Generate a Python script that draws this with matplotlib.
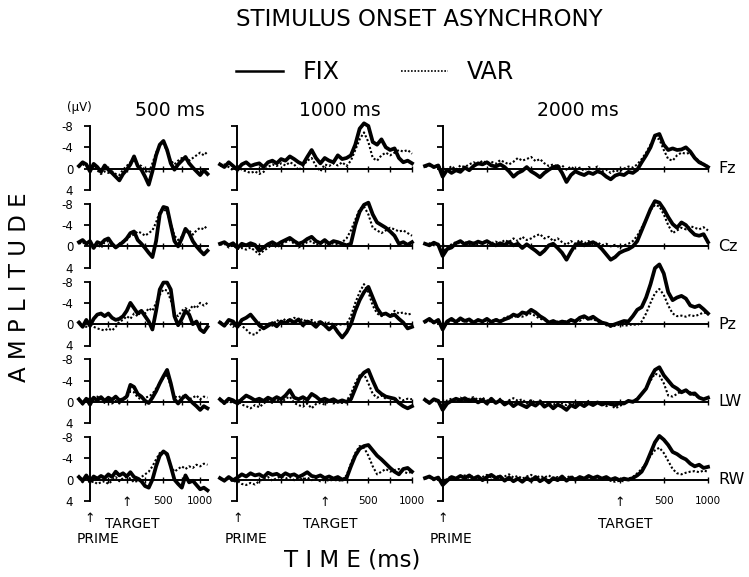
import numpy as np
import matplotlib
matplotlib.use("Agg")
import matplotlib.pyplot as plt
from matplotlib.transforms import blended_transform_factory, offset_copy
from matplotlib.lines import Line2D

plt.rcParams['font.family'] = ['DejaVu Sans']

# ---------------- data ----------------
electrodes = ["Fz", "Cz", "Pz", "LW", "RW"]
soa_labels = ["500 ms", "1000 ms", "2000 ms"]
soa_ms = [500, 1000, 2000]          # target onset after prime
t_start = [-150, -200, -200]        # first sample of each SOA panel (ms)
t_step = 50
y_ticks = [-8, -4, 0, 4]
y_tick_labels = ["-8", "-4", "0", "4"]
x_tick_labels = ["500", "1000"]     # ms after target
x_tick_offsets = [500, 1000]

# SOA 500 ms (t = -150 .. 1600 ms, step 50)
fz_fix_500 = [-0.5, -1.2, -0.8, 0.5, -0.9, -0.3, 0.6, -0.6, 0.2, 0.8,
              1.5, 2.2, 1.0, 0.2, -0.8, -2.3, -0.5, 0.2, 1.5, 3.0,
              0.5, -2.5, -4.5, -5.2, -3.5, -1.0, 0.2, -0.8, -1.5, -2.2,
              -1.0, -0.2, 0.5, 1.2, 0.3, 1.0]
fz_var_500 = [-0.3, -0.8, -0.5, 0.2, -0.5, 0.3, 1.0, 0.5, 0.8, 0.5,
              1.0, 1.2, 0.2, -0.5, -1.2, -1.5, -0.8, -0.5, 0.3, 0.8,
              -1.0, -3.0, -4.5, -4.8, -3.2, -1.5, -0.8, -1.5, -2.0, -1.8,
              -1.5, -2.0, -2.5, -3.0, -2.5, -3.2]
cz_fix_500 = [-0.8, -1.2, -0.5, -1.0, 0.3, -0.8, -0.5, -1.2, -1.5, -0.5,
              0.2, -0.3, -0.8, -1.5, -2.5, -2.8, -1.2, -0.5, 0.3, 1.2,
              2.0, -1.0, -6.0, -7.4, -7.2, -4.0, -1.0, 0.0, -1.5, -3.3,
              -2.5, -1.0, 0.0, 0.8, 1.5, 0.8]
cz_var_500 = [-0.5, -0.8, -0.3, -0.5, 0.2, -0.5, 0.3, -0.8, -1.0, -0.3,
              0.3, -0.5, -1.0, -1.2, -2.0, -2.2, -2.8, -2.5, -2.0, -2.5,
              -3.0, -4.5, -6.5, -7.0, -6.5, -4.2, -2.0, -1.2, -1.8, -2.8,
              -3.0, -2.2, -3.0, -3.5, -3.2, -4.0]
pz_fix_500 = [-0.3, 0.5, -0.8, 0.3, -1.0, -1.8, -2.0, -1.5, -2.0, -1.2,
              -0.8, -1.0, -1.5, -2.5, -4.0, -3.0, -2.0, -2.5, -1.5, -0.5,
              1.0, -2.5, -6.5, -7.8, -7.8, -6.5, -1.5, 0.2, -1.0, -2.5,
              -1.8, 0.0, -0.5, 1.0, 1.5, 0.5]
pz_var_500 = [-0.5, 0.3, 0.5, -0.3, 0.5, 0.8, 1.0, 1.2, 0.8, 1.2,
              0.5, -0.5, -0.8, -1.5, -1.0, -2.0, -1.5, -2.5, -2.0, -3.0,
              -2.5, -4.0, -5.5, -6.5, -6.3, -4.5, -2.0, -1.5, -2.5, -3.0,
              -2.5, -3.5, -3.0, -4.0, -3.5, -4.0]
lw_fix_500 = [-0.5, 0.3, -0.6, 0.5, -0.8, -0.3, -0.9, -0.2, -0.8, -0.4,
              -1.0, -0.3, -0.5, -1.0, -3.2, -2.8, -1.5, -1.0, -0.2, 0.2,
              -0.8, -2.0, -3.5, -4.8, -6.0, -3.5, -0.5, 0.3, -0.6, -1.2,
              -0.5, 0.2, 0.8, 1.5, 0.8, 1.2]
lw_var_500 = [-0.3, 0.5, -0.3, -0.8, -0.3, -1.0, -0.5, 0.2, -0.5, 0.3,
              -0.2, 0.3, -0.5, -0.8, -2.0, -1.8, -0.8, -0.5, -0.8, -1.0,
              -1.5, -2.5, -3.5, -4.5, -5.0, -3.0, -1.0, -0.8, -1.2, -1.0,
              -0.5, -0.8, -1.2, -0.5, -1.0, -0.8]
rw_fix_500 = [-0.5, 0.2, -0.8, 0.3, -0.6, -0.2, -0.7, -0.3, -1.0, -0.5,
              -1.5, -0.8, -1.2, -0.6, -1.4, -0.5, -0.2, 0.3, 1.2, 1.5,
              0.0, -2.5, -4.5, -5.3, -4.8, -2.5, 0.0, 0.8, 1.5, -0.8,
              0.5, 0.2, 1.0, 1.8, 1.5, 2.0]
rw_var_500 = [-0.3, 0.5, -0.5, 0.6, 0.3, 0.8, 0.5, 0.3, 0.8, 0.2,
              -0.5, 0.3, -0.3, -0.5, -0.2, 0.5, 0.2, -0.5, -1.0, -1.5,
              -2.5, -3.8, -5.0, -5.2, -4.5, -2.5, -1.5, -2.0, -2.5, -2.0,
              -2.5, -2.2, -2.8, -2.5, -3.0, -2.8]

# SOA 1000 ms (t = -200 .. 2000 ms, step 50)
fz_fix_1000 = [-0.8, -0.3, -1.2, -0.5, 0.2, -0.8, -1.2, -0.5, -0.8, -1.0,
               -0.3, -1.2, -1.5, -1.0, -1.8, -1.5, -2.3, -1.8, -1.2, -0.8,
               -2.2, -3.5, -2.0, -1.0, -2.0, -1.5, -1.2, -2.5, -1.8, -2.0,
               -2.5, -4.5, -7.5, -8.5, -8.0, -5.0, -4.5, -5.5, -4.0, -3.5,
               -3.8, -2.0, -1.2, -1.5, -1.0]
fz_var_1000 = [-0.5, -0.8, -0.3, 0.3, -0.5, 0.2, 0.5, 0.8, 0.5, 1.0,
               0.6, -0.3, -0.8, -0.5, -1.0, -0.6, -1.2, -0.8, 0.3, -0.5,
               -1.5, -2.0, -0.5, 0.5, -0.8, -0.5, -1.0, -0.6, -1.2, -0.5,
               -1.5, -3.5, -5.5, -6.8, -5.0, -2.0, -1.5, -2.5, -3.0, -2.5,
               -3.0, -3.5, -3.2, -3.5, -2.8]
cz_fix_1000 = [-0.5, -0.8, -0.2, -0.6, 0.3, -0.5, -0.2, -0.6, -0.3, 0.8,
               0.2, -0.4, -0.8, -0.3, -0.8, -1.2, -1.6, -1.0, -0.5, -0.8,
               -1.4, -1.8, -1.0, -0.6, -1.2, -0.5, -1.0, -0.8, -0.5, -0.2,
               -0.5, -4.0, -6.5, -7.8, -8.2, -6.0, -4.5, -4.0, -3.5, -2.8,
               -2.0, -0.5, -0.8, -0.3, -0.8]
cz_var_1000 = [-0.3, -0.5, 0.2, -0.3, 0.5, 0.3, 0.6, 0.2, 0.8, 1.5,
               0.8, 0.3, -0.5, 0.2, -0.3, -0.8, -1.2, -0.5, 0.2, -0.3,
               -0.8, -1.0, -0.3, -0.5, -0.8, -0.3, -0.6, -0.4, -0.8, -1.5,
               -3.0, -5.0, -7.0, -7.5, -6.0, -3.5, -3.0, -2.5, -3.0, -3.5,
               -3.2, -2.8, -3.0, -2.5, -2.0]
pz_fix_1000 = [-0.3, 0.3, -0.8, -0.5, 0.5, -0.8, -1.2, -1.8, -0.8, 0.2,
               0.8, 0.3, -0.2, 0.4, -0.5, -0.2, -0.8, -0.3, -0.9, 0.2,
               -0.5, -0.2, 0.5, -0.4, 0.2, 1.0, 0.3, 1.5, 2.5, 1.5,
               0.0, -2.5, -4.5, -6.0, -7.0, -5.0, -3.0, -1.8, -2.0, -1.5,
               -1.8, -1.0, -0.3, 0.8, 0.5]
pz_var_1000 = [-0.5, 0.2, -0.3, 0.5, -0.2, 0.3, 1.0, 1.8, 2.0, 1.2,
               0.5, -0.3, 0.3, -0.8, -0.3, -1.0, -0.5, -1.2, -0.6, -1.0,
               -0.3, -0.8, -0.2, -0.6, 0.2, -0.3, 0.0, 0.2, 0.0, 0.0,
               -1.5, -4.0, -6.0, -7.5, -6.0, -3.5, -2.0, -1.5, -2.0, -1.5,
               -2.5, -2.0, -2.2, -1.8, -2.0]
lw_fix_1000 = [-0.5, 0.2, -0.6, -0.3, 0.3, -0.5, -1.2, -0.8, -0.3, -0.6,
               -0.2, -0.8, -0.4, -0.9, -0.5, -1.2, -2.2, -0.8, -0.5, -0.9,
               -0.4, -1.5, -1.0, -0.3, -0.6, -0.2, -0.5, 0.0, -0.3, 0.0,
               -0.5, -2.5, -4.5, -5.5, -6.0, -4.0, -2.2, -1.5, -1.0, -0.8,
               -0.6, 0.2, 0.8, 1.2, 0.8]
lw_var_1000 = [-0.3, 0.4, -0.2, 0.3, -0.4, 0.5, 0.8, 1.2, 0.6, 1.0,
               0.3, -0.3, 0.2, -0.5, 0.2, -0.6, -1.0, 0.2, 0.6, 0.9,
               0.3, 1.2, 0.4, 0.2, 0.5, -0.2, 0.3, 0.0, 0.2, -0.2,
               -1.5, -3.5, -5.0, -5.2, -3.5, -1.5, -0.8, -1.2, -0.6, -0.9,
               -0.4, -0.8, -0.3, -0.6, -0.5]
rw_fix_1000 = [-0.3, 0.2, -0.5, 0.1, -0.4, -1.0, -0.6, -1.2, -0.8, -1.0,
               -0.5, -1.3, -0.9, -1.1, -0.6, -1.2, -0.8, -1.0, -0.5, -0.9,
               -1.4, -0.7, -0.5, -0.8, -0.3, -0.6, -0.2, -0.5, 0.0, -0.3,
               -2.5, -4.5, -5.8, -6.3, -6.5, -5.5, -4.5, -3.8, -3.0, -2.2,
               -1.5, -1.0, -2.0, -2.2, -1.5]
rw_var_1000 = [-0.2, 0.3, -0.2, 0.4, 0.2, 0.8, 1.0, 0.6, 0.9, 0.3,
               -0.2, -0.5, 0.2, -0.3, -0.6, -0.2, -0.5, 0.1, -0.3, 0.0,
               -0.4, 0.1, -0.2, 0.3, 0.0, 0.2, 0.0, 0.2, 0.1, -0.8,
               -3.0, -5.0, -6.3, -6.0, -4.5, -2.5, -1.0, -1.5, -2.0, -1.5,
               -1.8, -2.0, -1.5, -1.2, -1.5]

# SOA 2000 ms (t = -200 .. 3000 ms, step 50)
fz_fix_2000 = [-0.5, -0.8, -0.3, -0.6, 1.5, 0.2, 0.8, 0.3, 0.6, -0.2,
               0.3, -0.5, -1.0, -0.8, -1.2, -0.6, -0.4, -0.8, -0.3, 0.5,
               1.5, 0.8, 0.4, -0.3, 0.5, 1.0, 1.6, 0.8, 0.2, -0.3,
               -0.5, 0.8, 2.5, 1.2, 0.5, 0.9, 1.2, 0.7, 1.0, 0.5,
               0.8, 1.5, 2.0, 1.3, 1.0, 1.2, 0.6, 0.8, 0.2, -1.2,
               -2.5, -4.0, -6.2, -6.5, -4.5, -3.5, -3.8, -3.5, -3.6, -4.0,
               -3.2, -2.0, -1.2, -0.8, -0.3]
fz_var_2000 = [-0.3, -0.6, -0.2, -0.8, 0.8, 0.3, -0.5, 0.2, -0.6, -0.3,
               -0.8, -1.2, -0.8, -1.5, -1.0, -1.3, -0.9, -1.6, -1.2, -0.8,
               -1.3, -2.0, -1.5, -1.8, -2.2, -1.4, -1.8, -1.0, -0.5, -0.8,
               -0.3, -0.6, 0.2, -0.4, 0.3, -0.2, 0.4, -0.3, 0.1, -0.4,
               0.5, 0.2, 0.8, 0.3, 0.5, 0.0, -0.4, -0.2, -0.8, -1.8,
               -3.0, -4.5, -5.8, -5.5, -3.5, -1.8, -1.5, -2.5, -3.0, -2.8,
               -3.0, -2.0, -1.5, -0.8, -0.5]
cz_fix_2000 = [-0.5, -0.2, -0.7, -0.3, 1.8, 0.5, 0.2, -0.6, -1.0, -0.4,
               -0.8, -0.5, -0.9, -0.6, -1.0, -0.5, -0.2, -0.6, -0.3, -0.8,
               -0.2, -0.5, 0.3, -0.4, 0.2, 0.8, 1.5, 0.8, -0.2, -0.5,
               0.3, 1.2, 2.5, 1.0, -0.3, -0.6, -0.2, -0.5, -0.8, -0.3,
               0.5, 1.5, 2.5, 2.0, 1.2, 0.8, 0.5, 0.0, -1.0, -3.0,
               -5.0, -7.0, -8.5, -8.2, -7.0, -5.5, -4.2, -3.5, -4.5, -4.0,
               -3.0, -2.2, -2.0, -2.3, -0.8]
cz_var_2000 = [-0.3, -0.6, -0.2, -0.5, 1.0, 0.3, -0.4, -0.8, -0.5, -0.9,
               -0.4, -0.7, -0.3, -0.8, -1.0, -0.6, -0.9, -0.5, -1.2, -0.8,
               -1.5, -1.0, -1.8, -1.2, -1.5, -2.0, -2.3, -1.5, -1.8, -1.0,
               -1.5, -0.8, -0.3, -1.0, -0.5, -1.2, -0.6, -1.0, -0.4, -0.8,
               -0.2, -0.5, 0.0, -0.3, 0.2, -0.2, -0.5, -1.0, -2.0, -3.5,
               -5.0, -6.8, -7.8, -7.5, -6.0, -4.0, -2.5, -3.0, -3.5, -3.2,
               -3.8, -3.5, -3.2, -3.6, -3.0]
pz_fix_2000 = [-0.5, -1.0, -0.3, -0.8, 1.0, -0.5, -1.0, -0.4, -1.1, -0.6,
               -0.9, -0.3, -0.8, -0.5, -1.0, -0.4, -0.8, -0.5, -0.9, -1.2,
               -1.8, -1.5, -2.2, -2.0, -2.7, -2.2, -1.5, -1.0, -0.3, -0.6,
               -0.2, -0.5, -0.3, -0.8, -0.5, -1.2, -1.5, -1.0, -1.4, -0.8,
               -0.3, -0.1, 0.3, 0.0, -0.3, -0.6, -0.5, -1.5, -2.7, -3.2,
               -5.0, -7.5, -10.5, -11.2, -9.5, -6.0, -4.5, -5.0, -5.3, -4.8,
               -3.5, -3.2, -3.5, -2.8, -2.0]
pz_var_2000 = [-0.3, -0.6, -0.2, -0.4, 0.8, -0.2, -0.7, -0.3, -0.8, -0.4,
               -0.6, -0.2, -0.6, -0.3, -0.8, -0.5, -1.0, -0.6, -1.2, -1.5,
               -1.2, -1.8, -1.4, -1.7, -2.0, -1.5, -1.0, -0.8, -0.4, -0.2,
               -0.5, -0.3, -0.6, -0.4, -0.9, -0.6, -1.2, -0.8, -1.0, -0.5,
               -0.2, 0.2, 0.5, 0.3, 0.1, 0.3, 0.2, 0.0, 0.2, -0.5,
               -2.0, -4.0, -5.8, -6.6, -5.5, -3.5, -2.0, -1.5, -1.6, -1.4,
               -1.7, -1.5, -1.8, -2.2, -2.0]
lw_fix_2000 = [-0.4, 0.2, -0.5, -0.2, 1.5, 0.3, -0.2, -0.6, -0.3, -0.7,
               -0.2, -0.5, 0.1, -0.4, 0.3, -0.6, 0.2, -0.3, 0.5, 0.0,
               0.8, 0.2, 0.6, 1.0, 0.3, 0.7, 0.0, 0.9, 0.4, 1.2,
               0.5, 0.9, 1.5, 0.6, 1.0, 0.3, 0.8, 0.2, 0.6, 0.1,
               0.5, 0.2, 0.4, 0.6, 0.2, 0.3, -0.2, 0.0, -0.5, -1.5,
               -2.5, -4.5, -6.0, -6.5, -5.0, -4.0, -3.0, -2.5, -1.8, -2.2,
               -1.5, -1.6, -0.8, -0.5, -0.8]
lw_var_2000 = [-0.2, 0.3, -0.4, 0.2, 1.0, -0.3, -0.6, -0.2, -0.8, -0.3,
               -0.6, -0.9, -0.4, -0.8, -0.2, -0.5, 0.3, -0.6, 0.2, -0.3,
               -0.7, -0.2, -0.5, 0.3, -0.4, 0.2, -0.3, 0.4, -0.1, 0.5,
               0.1, 0.3, 0.6, 0.2, 0.5, 0.0, 0.4, -0.2, 0.3, 0.0,
               0.5, 0.8, 0.5, 1.2, 0.8, 0.3, 0.0, -0.2, -0.6, -1.5,
               -2.5, -4.0, -5.3, -5.0, -3.5, -1.2, -1.0, -1.5, -2.0, -2.2,
               -1.8, -1.2, -0.8, -0.5, -0.6]
rw_fix_2000 = [-0.3, -0.6, -0.1, -0.4, 1.0, 0.2, -0.5, -0.2, -0.7, -0.3,
               -0.8, -0.2, -0.6, 0.1, -0.5, -0.9, -0.3, -0.6, 0.2, -0.4,
               0.3, -0.2, 0.4, -0.3, 0.2, -0.5, 0.3, -0.2, 0.5, -0.3,
               0.1, -0.6, 0.2, -0.4, 0.0, -0.5, -0.2, -0.7, -0.3, -0.6,
               -0.2, -0.5, 0.0, -0.3, 0.1, -0.2, 0.0, -0.3, -0.8, -1.5,
               -3.0, -5.0, -7.0, -8.2, -7.5, -6.5, -5.2, -4.8, -4.2, -3.8,
               -3.0, -2.5, -2.8, -2.2, -2.4]
rw_var_2000 = [-0.2, -0.4, 0.1, -0.3, 0.6, -0.2, -0.6, -0.1, -0.5, -0.8,
               -0.3, -0.7, -0.2, -0.5, -0.9, -0.4, -0.8, -0.3, -0.6, -1.0,
               -0.4, -0.7, -0.2, -0.6, -0.9, -0.3, -0.7, -0.4, -0.8, -0.2,
               -0.5, -0.1, -0.4, -0.7, -0.2, -0.5, -0.1, -0.4, -0.2, -0.5,
               0.0, -0.3, 0.2, 0.4, 0.2, 0.3, -0.2, -0.5, -1.2, -2.0,
               -3.2, -4.5, -5.5, -6.0, -5.0, -3.5, -2.0, -1.2, -1.0, -1.3,
               -1.5, -1.6, -1.4, -1.7, -1.5]

fix_data = [[fz_fix_500, fz_fix_1000, fz_fix_2000],
            [cz_fix_500, cz_fix_1000, cz_fix_2000],
            [pz_fix_500, pz_fix_1000, pz_fix_2000],
            [lw_fix_500, lw_fix_1000, lw_fix_2000],
            [rw_fix_500, rw_fix_1000, rw_fix_2000]]
var_data = [[fz_var_500, fz_var_1000, fz_var_2000],
            [cz_var_500, cz_var_1000, cz_var_2000],
            [pz_var_500, pz_var_1000, pz_var_2000],
            [lw_var_500, lw_var_1000, lw_var_2000],
            [rw_var_500, rw_var_1000, rw_var_2000]]

# ---------------- layout (pixels) ----------------
W, H = 749, 577
fig = plt.figure(figsize=(W / 100, H / 100), dpi=100)
fig.patch.set_facecolor('white')

def fx(px):
    return px / W

def fy(py):
    return 1 - py / H

col_px = [(77.5, 207.5), (220.0, 412.0), (425.0, 708.0)]
col_xlim = [(-170, 1600), (-200, 2000), (-200, 3000)]
col_tick_step = [250, 250, 500]
row_top0, row_gap, row_h = 126.0, 77.75, 64.0

axes = []
for r in range(5):
    row_axes = []
    for c in range(3):
        l, rr = col_px[c]
        top = row_top0 + r * row_gap
        ax = fig.add_axes([fx(l), fy(top + row_h), fx(rr - l), row_h / H])
        ax.set_facecolor('none')
        fixv = np.array(fix_data[r][c])
        varv = np.array(var_data[r][c])
        t_fix = t_start[c] + t_step * np.arange(len(fixv))
        t_var = t_start[c] + t_step * np.arange(len(varv))
        ax.plot(t_var, varv, color='black', lw=1.5, ls=(0, (1, 1.0)),
                clip_on=False, label='VAR', zorder=3)
        ax.plot(t_fix, fixv, color='black', lw=2.7, clip_on=False,
                solid_joinstyle='round', label='FIX', zorder=4)
        ax.set_xlim(*col_xlim[c])
        ax.set_ylim(4, -8)
        for s in ['top', 'right']:
            ax.spines[s].set_visible(False)
        ax.spines['left'].set_position(('data', 0))
        ax.spines['left'].set_linewidth(1.4)
        ax.spines['bottom'].set_position(('data', 0))
        ax.spines['bottom'].set_bounds(0, col_xlim[c][1])
        ax.spines['bottom'].set_linewidth(1.4)
        ax.set_yticks(y_ticks)
        ax.set_yticklabels(y_tick_labels)
        ax.tick_params(axis='y', direction='out', length=4, width=1.3,
                       pad=8, labelsize=8.5, labelleft=(c == 0))
        ax.set_xticks(np.arange(0, col_xlim[c][1] + 1, col_tick_step[c]))
        ax.tick_params(axis='x', direction='inout', length=4, width=1.0,
                       labelbottom=False)
        # electrode label at right, on the zero line
        if c == 2:
            ax.text(1.035, 0, electrodes[r], fontsize=11.5, ha='left',
                    va='center',
                    transform=blended_transform_factory(ax.transAxes, ax.transData))
        row_axes.append(ax)
    axes.append(row_axes)

# bottom row: time labels and event arrows
for c in range(3):
    ax = axes[4][c]
    tgt = soa_ms[c]
    for lab, off in zip(x_tick_labels, x_tick_offsets):
        ax.text(tgt + off, 4, lab, fontsize=7.5, ha='center', va='center')
    tr = blended_transform_factory(ax.transData, fig.transFigure)
    ax.text(0, fy(518), "\u2191", fontsize=9, ha='center', va='center', transform=tr)
    ax.text(0, fy(539), "PRIME", fontsize=10, ha='left', va='center',
            transform=offset_copy(tr, fig=fig, x=-13, y=0, units='dots'))
    ax.text(tgt, fy(503), "\u2191", fontsize=9, ha='center', va='center', transform=tr)
    ax.text(tgt, fy(524), "TARGET", fontsize=10, ha='left', va='center',
            transform=offset_copy(tr, fig=fig, x=-22, y=0, units='dots'))

# column headers
header_x = [170, 340, 578]
for c in range(3):
    fig.text(fx(header_x[c]), fy(111), soa_labels[c], fontsize=13.5,
             ha='center', va='center')
fig.text(fx(79), fy(108), "(\u03bcV)", fontsize=8.5, ha='center', va='center')

# title and legend
fig.text(fx(419), fy(20), "STIMULUS ONSET ASYNCHRONY", fontsize=16.5,
         ha='center', va='center')
fig.legend([Line2D([], [], color='black', lw=1.8),
            Line2D([], [], color='black', lw=1.2, ls=(0, (1, 1)))],
           ['FIX', 'VAR'], ncol=2, frameon=False, fontsize=17,
           handlelength=2.0, handletextpad=0.8, columnspacing=2.6,
           loc='center', bbox_to_anchor=(fx(375), fy(72)))

# axis titles
fig.text(fx(20), fy(287), "A M P L I T U D E", fontsize=16.5, rotation=90,
         ha='center', va='center')
fig.text(fx(352), fy(560), "T I M E (ms)", fontsize=16.5, ha='center', va='center')

fig.savefig("out.png", dpi=100, facecolor='white')
